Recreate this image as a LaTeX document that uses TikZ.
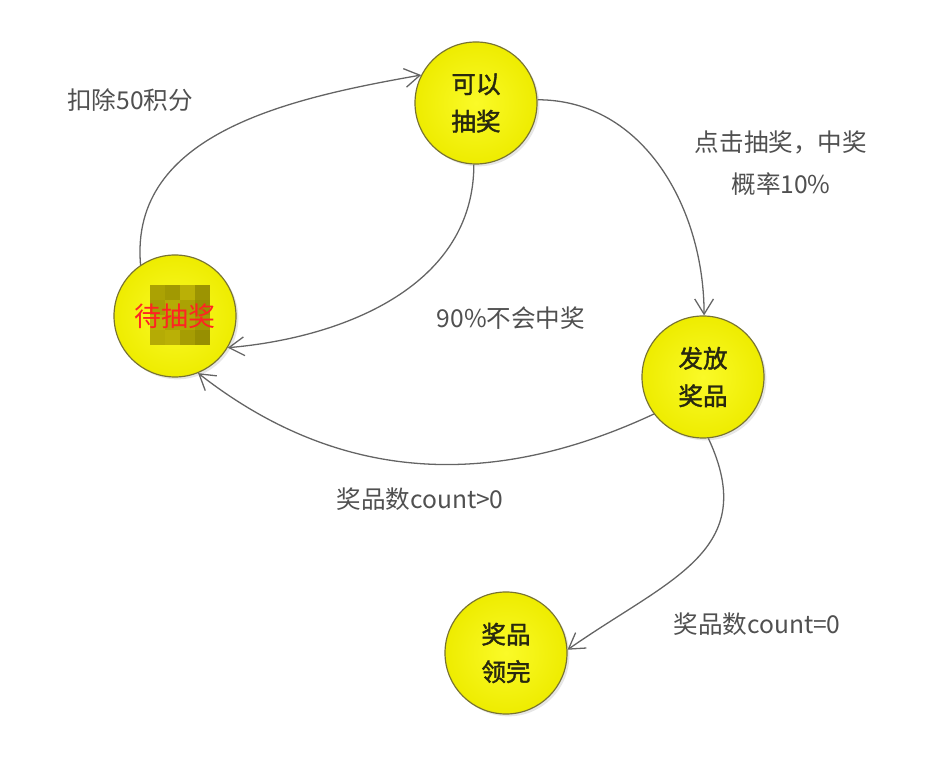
\documentclass[tikz,border=0pt]{standalone}
\usepackage{fontspec}
\setmainfont{Noto Sans CJK SC}
\newfontfamily\statefont{Noto Sans CJK SC}[FakeBold=1.6]
\usetikzlibrary{arrows.meta,shadows}
\definecolor{stateyellow}{RGB}{238,236,0}
\definecolor{statelight}{RGB}{250,250,40}
\definecolor{stateedge}{RGB}{120,115,50}
\definecolor{statetext}{RGB}{40,40,15}
\definecolor{labelgray}{RGB}{80,80,80}
\definecolor{linegray}{RGB}{100,100,100}
\definecolor{hidered}{RGB}{255,35,35}

\begin{document}
\begin{tikzpicture}[x=0.03cm,y=0.03cm,
  state/.style={circle,draw=stateedge,line width=1pt,minimum size=3.66cm,inner sep=0pt,
    inner color=statelight,outer color=stateyellow,
    drop shadow={opacity=0.2,shadow xshift=2pt,shadow yshift=-2pt},
    font=\statefont\fontsize{21}{32}\selectfont,text=statetext,align=center},
  trans/.style={linegray,line width=1.1pt,-{Straight Barb[length=13pt,width=16pt]}},
  lbl/.style={font=\fontsize{21}{36}\selectfont,text=labelgray,align=center}]
\useasboundingbox (0,0) rectangle (934,760);
% states
\node[state] (lottery) at (476,657) {可以\\抽奖};
\node[state] (wait) at (175,444) {};
\node[state] (prize) at (703,383) {发放\\奖品};
\node[state] (done) at (506,107) {奖品\\领完};
% mosaic on the hidden label
\foreach \i/\j/\c in {0/0/70,1/0/80,2/0/55,3/0/85,0/1/75,1/1/60,2/1/70,3/1/90,
                      0/2/55,1/2/70,2/2/65,3/2/80,0/3/60,1/3/55,2/3/75,3/3/90}
  \fill[olive!\c!stateyellow] (150+15*\i,475-15*\j) rectangle ++(15,-15);
\node[font=\fontsize{23}{26}\selectfont,text=hidered] (waittext) at (wait) {待抽奖};
% transitions
\draw[trans] (wait.124) to[out=95,in=190] (lottery.153);
\draw[trans] (lottery.268) to[out=-90,in=5] (wait.-31);
\draw[trans] (lottery.3) to[out=0,in=90] (prize.89);
\draw[trans] (prize.217) to[out=205,in=-38] (wait.-68);
\draw[trans] (prize.-85) to[out=-65,in=35,looseness=1.25] (done.3);
% labels
\node[lbl] (deduct) at (130,660) {扣除50积分};
\node[lbl] (win) at (781,597) {点击抽奖，中奖\\概率10\%};
\node[lbl] (lose) at (511,442) {90\%不会中奖};
\node[lbl] (left) at (420,261) {奖品数count>0};
\node[lbl] (empty) at (757,136) {奖品数count=0};
\end{tikzpicture}
\end{document}
